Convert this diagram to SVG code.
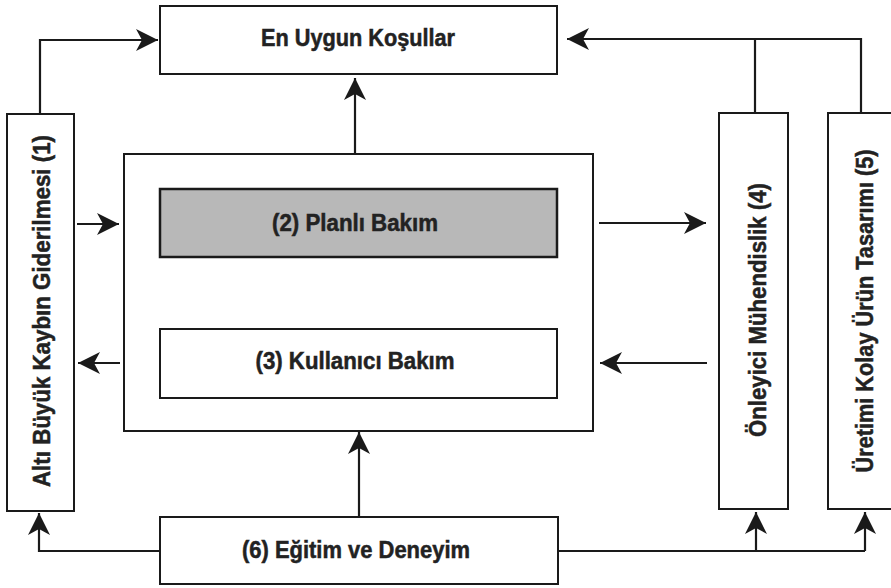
<svg xmlns="http://www.w3.org/2000/svg" width="891" height="588" viewBox="0 0 891 588">
<style>
.box{fill:#fff;stroke:#1a1a1a;stroke-width:2}
.grey{fill:#b8b8b8;stroke:#1a1a1a;stroke-width:2.5}
.lbl{font-family:"Liberation Sans",Arial,sans-serif;font-weight:bold;font-size:23px;fill:#222;stroke:#222;stroke-width:0.5;text-anchor:middle}
.ln{fill:none;stroke:#1a1a1a;stroke-width:2.2}
.arr{marker-end:url(#ah)}
</style>
<defs>
<marker id="ah" markerUnits="userSpaceOnUse" viewBox="-23 -12 24 24" refX="0" refY="0" markerWidth="24" markerHeight="24" orient="auto">
<path d="M0,0 L-22,-11 L-16,0 L-22,11 Z" fill="#1a1a1a"/>
</marker>
</defs>
<rect width="891" height="588" fill="#fff"/>
<g id="connectors">
<polyline class="ln arr" points="40,114 40,40 158,40"/>
<polyline class="ln" points="755,113 755,39"/>
<polyline class="ln arr" points="861,113 861,39 567,39"/>
<line class="ln arr" x1="355" y1="153" x2="355" y2="78"/>
<line class="ln arr" x1="359" y1="517" x2="359" y2="432"/>
<line class="ln arr" x1="77" y1="224" x2="119" y2="224"/>
<line class="ln arr" x1="120" y1="363" x2="78" y2="363"/>
<line class="ln arr" x1="599" y1="223" x2="706" y2="223"/>
<line class="ln arr" x1="707" y1="363" x2="600" y2="363"/>
<line class="ln arr" x1="252" y1="329" x2="252" y2="258"/>
<line class="ln arr" x1="472" y1="329" x2="472" y2="258"/>
<polyline class="ln arr" points="160,551 39,551 39,513"/>
<polyline class="ln" points="558,551 865,551"/>
<line class="ln arr" x1="756" y1="551" x2="756" y2="512"/>
<line class="ln arr" x1="865" y1="551" x2="865" y2="512"/>
</g>
<g id="en-uygun">
<rect class="box" x="160" y="6" width="397" height="68"/>
<text class="lbl" x="358" y="46" textLength="194" lengthAdjust="spacingAndGlyphs">En Uygun Koşullar</text>
</g>
<g id="n1">
<rect class="box" x="7" y="114" width="67" height="397"/>
<text class="lbl" transform="translate(50,311) rotate(-90)" textLength="352" lengthAdjust="spacingAndGlyphs">Altı Büyük Kaybın Giderilmesi (1)</text>
</g>
<g id="outer">
<rect class="box" x="124" y="154" width="469" height="277"/>
</g>
<g id="n2">
<rect class="grey" x="160" y="189" width="397" height="68"/>
<text class="lbl" x="355" y="231" textLength="166" lengthAdjust="spacingAndGlyphs">(2) Planlı Bakım</text>
</g>
<g id="n3">
<rect class="box" x="160" y="329" width="397" height="69"/>
<text class="lbl" x="355" y="369" textLength="199" lengthAdjust="spacingAndGlyphs">(3) Kullanıcı Bakım</text>
</g>
<g id="n4">
<rect class="box" x="719" y="113" width="69" height="396"/>
<text class="lbl" transform="translate(766,310) rotate(-90)" textLength="254" lengthAdjust="spacingAndGlyphs">Önleyici Mühendislik (4)</text>
</g>
<g id="n5">
<rect class="box" x="828" y="113" width="70" height="396"/>
<text class="lbl" transform="translate(873,311) rotate(-90)" textLength="323" lengthAdjust="spacingAndGlyphs">Üretimi Kolay Ürün Tasarımı (5)</text>
</g>
<g id="n6">
<rect class="box" x="160" y="517" width="398" height="67"/>
<text class="lbl" x="356" y="558" textLength="228" lengthAdjust="spacingAndGlyphs">(6) Eğitim ve Deneyim</text>
</g>
</svg>
